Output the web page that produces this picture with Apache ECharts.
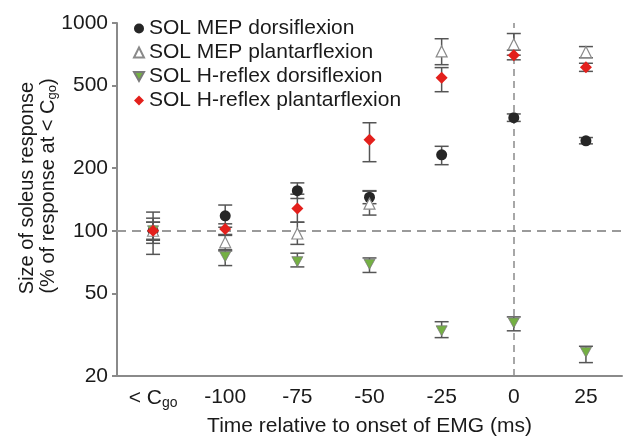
<!DOCTYPE html>
<html>
<head>
<meta charset="utf-8">
<script src="https://cdn.jsdelivr.net/npm/echarts@6/dist/echarts.min.js"></script>
<style>
html, body { margin: 0; padding: 0; background: #fff; }
#main { width: 623px; height: 437px; }
</style>
</head>
<body>
<div id="main"></div>
<script>
var categories = ['< Cgo', '-100', '-75', '-50', '-25', '0', '25'];
var yTicks = [20, 50, 100, 200, 500, 1000];

// SOL MEP dorsiflexion
var mepDorsi   = [100, 118, 156, 145, 232, 350, 271];
var mepDorsiLo = [77, 104, 143, 135, 208, 336, 262];
var mepDorsiHi = [123, 133, 170, 155, 255, 365, 281];

// SOL MEP plantarflexion
var mepPlant   = [100, 88, 97, 135, 730, 790, 725];
var mepPlantLo = [90, 81, 86, 119, 630, 700, 680];
var mepPlantHi = [110, 95, 110, 156, 840, 890, 770];

// SOL H-reflex dorsiflexion
var hDorsi   = [100, 75, 71, 69, 33, 36, 26];
var hDorsiLo = [87, 68, 67, 63, 30.6, 33, 23.2];
var hDorsiHi = [115, 80, 78, 74, 36.5, 38.5, 27.8];

// SOL H-reflex plantarflexion
var hPlant   = [100, 102, 128, 274, 545, 700, 612];
var hPlantLo = [91, 96, 110, 215, 467, 665, 585];
var hPlantHi = [110, 108, 150, 331, 610, 740, 640];

var font = 'Liberation Sans';
var txt = '#1a1a1a';

function errorSeries(name, lo, hi) {
    return {
        type: 'custom',
        name: name,
        silent: true,
        z: 2,
        data: categories.map(function (c, i) { return [i, lo[i], hi[i]]; }),
        encode: { x: 0, y: [1, 2] },
        renderItem: function (params, api) {
            var a = api.coord([api.value(0), api.value(1)]);
            var b = api.coord([api.value(0), api.value(2)]);
            var w = 7;
            var st = { stroke: '#555', lineWidth: 1.5 };
            return {
                type: 'group',
                children: [
                    { type: 'line', shape: { x1: a[0], y1: a[1], x2: b[0], y2: b[1] }, style: st },
                    { type: 'line', shape: { x1: a[0] - w, y1: a[1], x2: a[0] + w, y2: a[1] }, style: st },
                    { type: 'line', shape: { x1: b[0] - w, y1: b[1], x2: b[0] + w, y2: b[1] }, style: st }
                ]
            };
        }
    };
}

var myChart = echarts.init(document.getElementById('main'));

myChart.setOption({
    animation: false,
    backgroundColor: '#fff',
    grid: { left: 117, right: 1, top: 23, bottom: 61, outerBoundsMode: 'none', containLabel: false },
    legend: {
        data: ['SOL MEP dorsiflexion', 'SOL MEP plantarflexion', 'SOL H-reflex dorsiflexion', 'SOL H-reflex plantarflexion'],
        orient: 'vertical',
        left: 133,
        top: 18,
        itemWidth: 10,
        itemHeight: 10,
        itemGap: 3,
        backgroundColor: '#fff',
        padding: [0, 4, 2, 0],
        textStyle: { fontFamily: font, fontSize: 21, color: txt }
    },
    graphic: [
        {
            type: 'text', x: 27, y: 188, rotation: Math.PI / 2,
            style: { text: 'Size of soleus response', fontFamily: font, fontSize: 20, fill: txt, align: 'center', verticalAlign: 'middle' }
        },
        {
            type: 'text', x: 48, y: 186, rotation: Math.PI / 2,
            style: {
                text: '(% of response at < C{sub|go})', fontFamily: font, fontSize: 20, fill: txt, align: 'center', verticalAlign: 'middle',
                rich: { sub: { fontFamily: font, fontSize: 13, fill: txt, padding: [8, 0, 0, 0] } }
            }
        }
    ],
    xAxis: {
        type: 'category',
        data: categories,
        name: 'Time relative to onset of EMG (ms)',
        nameLocation: 'middle',
        nameGap: 40,
        nameTextStyle: { fontFamily: font, fontSize: 21, color: txt },
        axisLine: { lineStyle: { color: '#8a8a8a', width: 2 } },
        axisTick: { alignWithLabel: true, interval: 0, length: 6, lineStyle: { color: '#8a8a8a', width: 2 } },
        axisLabel: {
            interval: 0,
            hideOverlap: false,
            margin: 11,
            fontFamily: font, fontSize: 21, color: txt,
            formatter: function (v) { return v === '< Cgo' ? '< C{sub|go}' : v; },
            rich: { sub: { fontFamily: font, fontSize: 14, color: txt, padding: [9, 0, 0, 0] } }
        },
        splitLine: { show: false }
    },
    yAxis: {
        type: 'log',
        logBase: 10,
        min: 20,
        max: 1000,
        axisLine: { show: true, lineStyle: { color: '#8a8a8a', width: 2 } },
        axisTick: { show: true, length: 5, customValues: yTicks, lineStyle: { color: '#8a8a8a', width: 2 } },
        axisLabel: {
            margin: 9, fontFamily: font, fontSize: 21, color: txt, customValues: yTicks,
            formatter: function (v) { return String(Math.round(v)); }
        },
        splitLine: { show: false }
    },
    series: [
        errorSeries('errMepDorsi', mepDorsiLo, mepDorsiHi),
        errorSeries('errMepPlant', mepPlantLo, mepPlantHi),
        errorSeries('errHDorsi', hDorsiLo, hDorsiHi),
        errorSeries('errHPlant', hPlantLo, hPlantHi),
        {
            name: 'SOL MEP dorsiflexion',
            type: 'scatter',
            z: 3,
            symbol: 'circle',
            symbolSize: 11,
            itemStyle: { color: '#262626', opacity: 1 },
            data: mepDorsi,
            markLine: {
                silent: true,
                symbol: 'none',
                z: 1,
                label: { show: false },
                lineStyle: { color: '#9a9a9a', width: 2, type: [9, 6] },
                data: [
                    { yAxis: 100 },
                    { xAxis: categories.indexOf('0'), lineStyle: { width: 1.5, type: [7, 5], color: '#8a8a8a' } }
                ]
            }
        },
        {
            name: 'SOL MEP plantarflexion',
            type: 'scatter',
            z: 3,
            symbol: 'triangle',
            symbolSize: 11,
            itemStyle: { color: '#fff', borderColor: '#8a8a8a', borderWidth: 1.2, opacity: 1 },
            data: mepPlant
        },
        {
            name: 'SOL H-reflex dorsiflexion',
            type: 'scatter',
            z: 3,
            symbol: 'path://M0,0L10,0L5,9Z',
            symbolSize: [11, 10],
            itemStyle: { color: '#74b043', borderColor: '#7a7a7a', borderWidth: 0.8, opacity: 1 },
            data: hDorsi
        },
        {
            name: 'SOL H-reflex plantarflexion',
            type: 'scatter',
            z: 4,
            symbol: 'diamond',
            symbolSize: 12,
            itemStyle: { color: '#e3201c', opacity: 1 },
            data: hPlant
        }
    ]
});
</script>
</body>
</html>
